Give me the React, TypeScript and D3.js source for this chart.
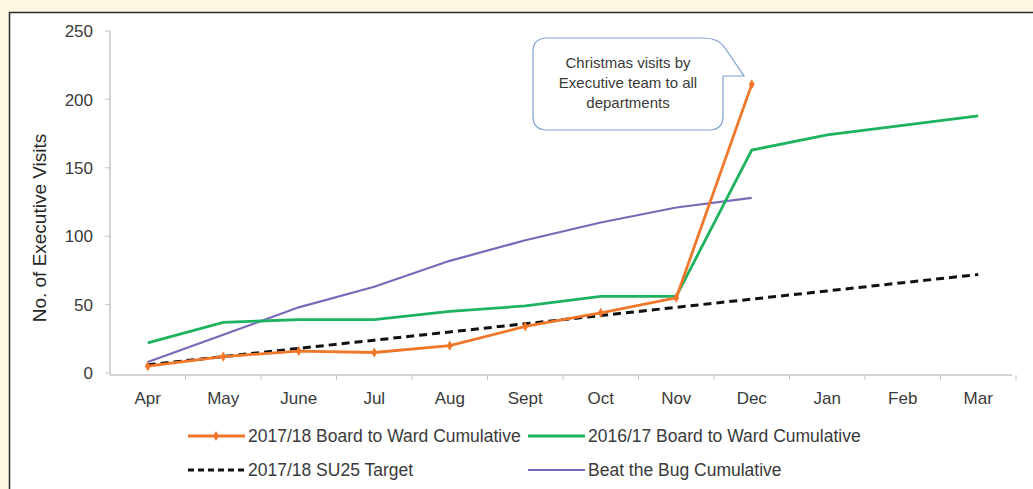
import React from "react";
import * as d3 from "d3";

const months = ["Apr", "May", "June", "Jul", "Aug", "Sept", "Oct", "Nov", "Dec", "Jan", "Feb", "Mar"];
const boardToWard1718 = [5, 12, 16, 15, 20, 34, 44, 55, 211];
const boardToWard1617 = [22, 37, 39, 39, 45, 49, 56, 56, 163, 174, 181, 188];
const su25Target = [6, 12, 18, 24, 30, 36, 42, 48, 54, 60, 66, 72];
const beatTheBug = [8, 28, 48, 63, 82, 97, 110, 121, 128];
const yTicks = [0, 50, 100, 150, 200, 250];

const W = 1033;
const H = 489;
const FONT = "'Liberation Sans', Arial, sans-serif";

const ORANGE = "#f0772a";
const GREEN = "#1eb35f";
const PURPLE = "#7a68b8";
const BLACK = "#111";
const TEXT = "#3a3a3a";

export default function App() {
  const x = d3.scaleBand<string>().domain(months).range([110, 1016]);
  const y = d3.scaleLinear().domain([0, 250]).range([373, 31]);
  const cx = (i: number) => (x(months[i]) as number) + x.bandwidth() / 2;
  const line = d3
    .line<number>()
    .x((_, i) => cx(i))
    .y((d) => y(d));

  const diamond = d3.symbol().type(d3.symbolDiamond).size(30)() as string;

  const legend = [
    { label: "2017/18 Board to Ward Cumulative", color: ORANGE, dash: undefined, marker: true, lx: 188, ly: 436, w: 2.8 },
    { label: "2016/17 Board to Ward Cumulative", color: GREEN, dash: undefined, marker: false, lx: 528, ly: 436, w: 2.8 },
    { label: "2017/18 SU25 Target", color: BLACK, dash: "6,4", marker: false, lx: 188, ly: 470, w: 2.8 },
    { label: "Beat the Bug Cumulative", color: PURPLE, dash: undefined, marker: false, lx: 528, ly: 470, w: 2.2 },
  ];

  // callout bubble geometry
  const bx0 = 533, by0 = 38, bx1 = 723, by1 = 130, r = 14;
  const tipX = 744, tipY = 76;
  const bubble = [
    `M${bx0 + r},${by0}`,
    `L${bx1 - r - 6},${by0}`,
    `Q${bx1 - 4},${by0} ${bx1 + 2},${by0 + 10}`,
    `L${tipX},${tipY}`,
    `L${bx1},${tipY}`,
    `L${bx1},${by1 - r}`,
    `Q${bx1},${by1} ${bx1 - r},${by1}`,
    `L${bx0 + r},${by1}`,
    `Q${bx0},${by1} ${bx0},${by1 - r}`,
    `L${bx0},${by0 + r}`,
    `Q${bx0},${by0} ${bx0 + r},${by0}`,
    "Z",
  ].join(" ");

  return (
    <svg
      width={W}
      height={H}
      style={{ position: "fixed", left: 0, top: 0, display: "block" }}
      fontFamily={FONT}
    >
      <rect x={0} y={0} width={W} height={H} fill="#fdf7e2" />
      <rect x={9} y={12} width={W - 9} height={H - 12} fill="#ffffff" />
      <line x1={9} y1={12.5} x2={W} y2={12.5} stroke="#2b2b2b" strokeWidth={1.5} />
      <line x1={9.5} y1={12} x2={9.5} y2={H} stroke="#2b2b2b" strokeWidth={1.5} />

      {/* y axis */}
      <line x1={110} y1={y(250)} x2={110} y2={y(0) + 2} stroke="#c4c4c4" strokeWidth={1.5} />
      {yTicks.map((t) => (
        <g key={t}>
          <line x1={105} x2={110} y1={y(t)} y2={y(t)} stroke="#c4c4c4" />
          <text x={93} y={y(t)} dy="0.36em" textAnchor="end" fontSize={17} fill={TEXT}>
            {t}
          </text>
        </g>
      ))}
      <text
        transform={`translate(46,${228}) rotate(-90)`}
        textAnchor="middle"
        fontSize={19}
        fill="#262626"
      >
        No. of Executive Visits
      </text>

      {/* x axis */}
      <line x1={110} x2={1012} y1={y(0) + 2} y2={y(0) + 2} stroke="#c4c4c4" strokeWidth={1.5} />
      {months.map((m, i) => (
        <g key={m}>
          <line
            x1={(x(m) as number) + x.bandwidth()}
            x2={(x(m) as number) + x.bandwidth()}
            y1={y(0) + 2}
            y2={y(0) + 7}
            stroke="#c4c4c4"
          />
          <text x={cx(i)} y={404} textAnchor="middle" fontSize={17} fill={TEXT}>
            {m}
          </text>
        </g>
      ))}

      {/* series */}
      <path d={line(beatTheBug) as string} fill="none" stroke={PURPLE} strokeWidth={2.2} />
      <path d={line(boardToWard1617) as string} fill="none" stroke={GREEN} strokeWidth={2.8} />
      <path d={line(su25Target) as string} fill="none" stroke={BLACK} strokeWidth={3} strokeDasharray="8,5" />
      <path d={line(boardToWard1718) as string} fill="none" stroke={ORANGE} strokeWidth={2.8} />
      {boardToWard1718.map((v, i) => (
        <path key={i} d={diamond} transform={`translate(${cx(i)},${y(v)})`} fill={ORANGE} />
      ))}

      {/* callout */}
      <path d={bubble} fill="#ffffff" stroke="#7f9ed2" strokeWidth={1.2} />
      {["Christmas visits by", "Executive team to all", "departments"].map((t, i) => (
        <text key={t} x={628} y={63 + i * 20} dy="0.35em" textAnchor="middle" fontSize={15} fill={TEXT}>
          {t}
        </text>
      ))}

      {/* legend */}
      {legend.map((l) => (
        <g key={l.label}>
          <line
            x1={l.lx}
            x2={l.lx + 57}
            y1={l.ly}
            y2={l.ly}
            stroke={l.color}
            strokeWidth={l.w}
            strokeDasharray={l.dash}
          />
          {l.marker && <path d={diamond} transform={`translate(${l.lx + 28},${l.ly})`} fill={l.color} />}
          <text x={l.lx + 60} y={l.ly} dy="0.36em" fontSize={17.5} fill={TEXT}>
            {l.label}
          </text>
        </g>
      ))}
    </svg>
  );
}
